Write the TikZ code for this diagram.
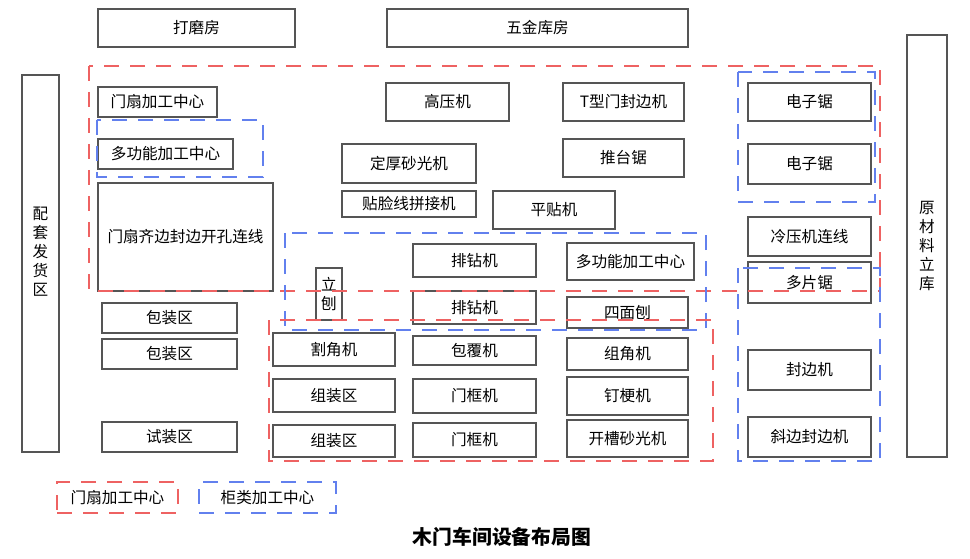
\documentclass[tikz,border=0pt]{standalone}
\usepackage{fontspec}
\setmainfont{Noto Sans CJK SC}
\usepackage{tikz}
\definecolor{redline}{RGB}{238,98,98}
\definecolor{blueline}{RGB}{98,128,238}
\definecolor{boxline}{RGB}{85,85,85}
\tikzset{
	box/.style={draw=boxline, line width=1.2pt, inner sep=0pt, font=\fontsize{15.6}{19}\selectfont},
	reddash/.style={draw=redline, line width=2pt, dash pattern=on 15pt off 11pt},
	bluedash/.style={draw=blueline, line width=2pt, dash pattern=on 15pt off 11pt}
}

\begin{document}
\begin{tikzpicture}[x=1pt, y=-1pt]
		\useasboundingbox (0,0) rectangle (970,559);
		% top rooms
		\node[box, minimum width=197, minimum height=38] (dmf) at (196.5,28) {打磨房};
		\node[box, minimum width=301, minimum height=38] (wjkf) at (537.5,28) {五金库房};
		% side stores
		\node[box, minimum width=37, minimum height=377, align=center] (ptfhq) at (40.5,263.5) {配\\套\\发\\货\\区\\[6pt]};
		\node[box, minimum width=40, minimum height=422, align=center] (ycllk) at (927,246) {原\\材\\料\\立\\库};
		% left column
		\node[box, minimum width=119, minimum height=30] (msjg) at (157.5,102) {门扇加工中心};
		\node[box, minimum width=135, minimum height=30] (dgn1) at (165.5,154) {多功能加工中心};
		\node[box, minimum width=175, minimum height=108] (mslx) at (185.5,237) {门扇齐边封边开孔连线};
		\node[box, minimum width=135, minimum height=30] (bzq1) at (169.5,318) {包装区};
		\node[box, minimum width=135, minimum height=30] (bzq2) at (169.5,354) {包装区};
		\node[box, minimum width=135, minimum height=30] (szq) at (169.5,437) {试装区};
		% middle upper
		\node[box, minimum width=123, minimum height=38] (gyj) at (447.5,102) {高压机};
		\node[box, minimum width=121, minimum height=38] (txm) at (623.5,102) {T型门封边机};
		\node[box, minimum width=134, minimum height=39] (dhsg) at (409,163.5) {定厚砂光机};
		\node[box, minimum width=121, minimum height=38] (ttj) at (623.5,158) {推台锯};
		\node[box, minimum width=134, minimum height=26] (tlx) at (409,204) {贴脸线拼接机};
		\node[box, minimum width=122, minimum height=38] (ptj) at (554,210) {平贴机};
		% right column
		\node[box, minimum width=123, minimum height=38] (dzj1) at (809.5,102) {电子锯};
		\node[box, minimum width=123, minimum height=40] (dzj2) at (809.5,164) {电子锯};
		\node[box, minimum width=123, minimum height=39] (lyj) at (809.5,236.5) {冷压机连线};
		\node[box, minimum width=123, minimum height=41] (dpj) at (809.5,282.5) {多片锯};
		\node[box, minimum width=123, minimum height=40] (fbj) at (809.5,370) {封边机};
		\node[box, minimum width=123, minimum height=40] (xbf) at (809.5,437) {斜边封边机};
		% middle lower
		\node[box, minimum width=26, minimum height=52, align=center] (lb) at (329,294) {立\\刨};
		\node[box, minimum width=123, minimum height=33] (pzj1) at (474.5,260.5) {排钻机};
		\node[box, minimum width=127, minimum height=37] (dgn2) at (630.5,261.5) {多功能加工中心};
		\node[box, minimum width=123, minimum height=33] (pzj2) at (474.5,307.5) {排钻机};
		\node[box, minimum width=121, minimum height=31] (smb) at (627.5,312.5) {四面刨};
		\node[box, minimum width=122, minimum height=33] (gjj) at (334,349.5) {割角机};
		\node[box, minimum width=123, minimum height=29] (bfj) at (474.5,350.5) {包覆机};
		\node[box, minimum width=121, minimum height=32] (zjj) at (627.5,354) {组角机};
		\node[box, minimum width=122, minimum height=33] (zzq1) at (334,395.5) {组装区};
		\node[box, minimum width=123, minimum height=34] (mkj1) at (474.5,396) {门框机};
		\node[box, minimum width=121, minimum height=38] (dgj) at (627.5,396) {钉梗机};
		\node[box, minimum width=122, minimum height=32] (zzq2) at (334,441) {组装区};
		\node[box, minimum width=123, minimum height=34] (mkj2) at (474.5,440) {门框机};
		\node[box, minimum width=121, minimum height=37] (kcs) at (627.5,438.5) {开槽砂光机};
		% work areas
		\draw[reddash] (89,66) rectangle (880,291);
		\draw[bluedash] (97,120) rectangle (263,177);
		\draw[bluedash] (738,72) rectangle (875,202);
		\draw[bluedash] (285,233) rectangle (706,330);
		\draw[reddash] (269,320) rectangle (713,461);
		\draw[bluedash] (738,268) rectangle (880,461);
		% legend
		\node[box, reddash, minimum width=121, minimum height=31] (lgred) at (117.5,497.5) {门扇加工中心};
		\node[box, bluedash, minimum width=137, minimum height=31] (lgblue) at (267.5,497.5) {柜类加工中心};
		\node[font=\fontsize{19.8}{22}\selectfont\bfseries] (title) at (502,537) {木门车间设备布局图};
	\end{tikzpicture}
\end{document}
